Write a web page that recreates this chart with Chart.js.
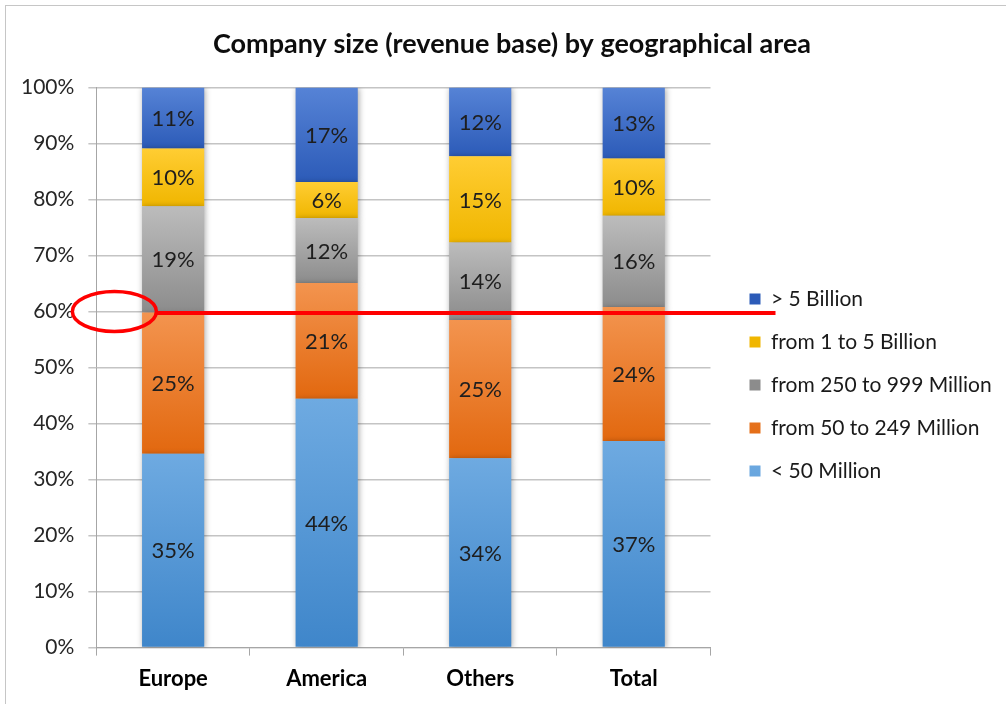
<!DOCTYPE html>
<html>
<head>
<meta charset="utf-8">
<script src="https://cdn.jsdelivr.net/npm/chart.js@4.4.0/dist/chart.umd.min.js"></script>
<style>
  html, body { margin:0; padding:0; background:#fff; overflow:hidden; }
  #wrap { position:relative; width:1006px; height:704px; }
  #frame { position:absolute; left:5px; top:5px; width:1100px; height:800px; border:1px solid #c6c6c6; }
  canvas { position:absolute; left:0; top:0; }
</style>
</head>
<body>
<div id="wrap"><div id="frame"></div><canvas id="chart" width="1006" height="704"></canvas></div>
<script>
// ---- data (labels are the rounded values) ----
const regions = ['Europe', 'America', 'Others', 'Total'];
const sizeClasses = ['< 50 Million', 'from 50 to 249 Million', 'from 250 to 999 Million', 'from 1 to 5 Billion', '> 5 Billion'];
const under50M   = [34.6, 44.4, 33.8, 36.9];
const from50M    = [25.2, 20.7, 24.7, 23.9];
const from250M   = [19.0, 11.6, 13.8, 16.3];
const from1B     = [10.3,  6.4, 15.4, 10.2];
const over5B     = [10.9, 16.9, 12.3, 12.7];
const yTicks     = [0, 10, 20, 30, 40, 50, 60, 70, 80, 90, 100];
const markedLevel = 60;   // the red hand-drawn marker

const series = [under50M, from50M, from250M, from1B, over5B];

// flat colour (legend) + gradient stops top/bottom (bars)
const palette = [
  {flat:'#5b9bd5', top:'#6eaae1', bottom:'#3f86ca'},
  {flat:'#ed7d31', top:'#f3944f', bottom:'#e2680f'},
  {flat:'#a5a5a5', top:'#bcbcbc', bottom:'#8c8c8c'},
  {flat:'#ffc000', top:'#ffcd33', bottom:'#f0b600'},
  {flat:'#3f66c6', top:'#5683d6', bottom:'#2c5bb8'}
];

const FONT = 'Lato, "Open Sans", sans-serif';
Chart.defaults.font.family = FONT;

function segGradient(c, d){
  const col = palette[d];
  if (c.type !== 'data') return col.flat;
  const chart = c.chart, ys = chart.scales.y;
  if (!ys || !chart.chartArea) return col.flat;
  const i = c.dataIndex;
  let base = 0;
  for (let k = 0; k < d; k++) base += series[k][i];
  const yTop = ys.getPixelForValue(base + series[d][i]);
  const yBot = ys.getPixelForValue(base);
  if (!isFinite(yTop) || !isFinite(yBot)) return col.flat;
  const g = chart.ctx.createLinearGradient(0, yTop, 0, yBot);
  g.addColorStop(0, col.top);
  g.addColorStop(1, col.bottom);
  return g;
}

// soft shadow behind the bars + centered value labels
const barDecor = {
  id:'barDecor',
  beforeDatasetsDraw(chart){
    const ctx = chart.ctx;
    ctx.save();
    ctx.shadowColor = 'rgba(0,0,0,0.35)';
    ctx.shadowBlur = 6;
    ctx.shadowOffsetX = 1;
    ctx.shadowOffsetY = 1;
  },
  afterDatasetsDraw(chart){
    const ctx = chart.ctx;
    ctx.restore();
    ctx.save();
    ctx.font = '22px ' + FONT;
    ctx.fillStyle = '#1e1e1e';
    ctx.textAlign = 'center';
    ctx.textBaseline = 'middle';
    chart.data.datasets.forEach((ds, d) => {
      chart.getDatasetMeta(d).data.forEach((bar, i) => {
        const p = bar.getProps(['x', 'y', 'base'], true);
        ctx.fillText(Math.round(ds.data[i]) + '%', p.x, (p.y + p.base) / 2 + 1);
      });
    });
    ctx.restore();
  }
};

// legend column next to the plot, a bit lower; title slightly right (as in the original)
const boxPlace = {
  id:'boxPlace',
  afterLayout(chart){
    const lg = chart.legend, area = chart.chartArea;
    lg.left = area.right + 17;
    lg.right = chart.width;
    lg.top += 34;
    lg.bottom += 34;
    const tb = chart.titleBlock;
    const shift = chart.width / 2 + 9 - (tb.left + tb.right) / 2;
    tb.left += shift;
    tb.right += shift;
  }
};

// red ellipse round the 60% tick + red line across
const redMarker = {
  id:'redMarker',
  afterDraw(chart){
    const ctx = chart.ctx, ys = chart.scales.y, area = chart.chartArea;
    const y = ys.getPixelForValue(markedLevel);
    ctx.save();
    ctx.strokeStyle = '#ff0000';
    ctx.lineWidth = 4;
    ctx.beginPath();
    ctx.moveTo(area.left + 60, y + 1.5);
    ctx.lineTo(area.right + 65, y + 1.5);
    ctx.stroke();
    ctx.lineWidth = 3.5;
    ctx.beginPath();
    ctx.ellipse(area.left + 18, y, 42, 20, 0, 0, Math.PI * 2);
    ctx.stroke();
    ctx.restore();
  }
};

new Chart(document.getElementById('chart'), {
  type:'bar',
  data:{
    labels: regions,
    datasets: series.map((vals, d) => ({
      label: sizeClasses[d],
      data: vals,
      backgroundColor: c => segGradient(c, d),
      borderWidth: 0,
      categoryPercentage: 1,
      barPercentage: 0.405
    }))
  },
  options:{
    responsive:false,
    animation:false,
    layout:{ padding:{ left:7, right:61, top:0, bottom:2 } },
    plugins:{
      title:{
        display:true,
        text:'Company size (revenue base) by geographical area',
        color:'#0d0d0d',
        font:{ size:27, weight:'bold' },
        padding:{ top:28, bottom:27 }
      },
      legend:{
        position:'right',
        reverse:true,
        labels:{ boxWidth:11, boxHeight:11, padding:22, color:'#1a1a1a', font:{ size:21 } }
      },
      tooltip:{ enabled:false }
    },
    scales:{
      x:{
        stacked:true,
        grid:{ drawOnChartArea:false, drawTicks:true, tickLength:8, color:'#a6a6a6', offset:true },
        border:{ color:'#a6a6a6' },
        ticks:{ color:'#000', padding:10, font:{ size:22, weight:'bold' } }
      },
      y:{
        stacked:true,
        min:0, max:100,
        afterBuildTicks: s => { s.ticks = yTicks.map(v => ({ value:v })); },
        grid:{ color:'#c4c4c4', lineWidth:1.5, tickLength:8 },
        border:{ color:'#a6a6a6' },
        ticks:{ color:'#262626', padding:14, font:{ size:21 }, callback: v => v + '%' }
      }
    }
  },
  plugins:[barDecor, boxPlace, redMarker]
});
</script>
</body>
</html>
